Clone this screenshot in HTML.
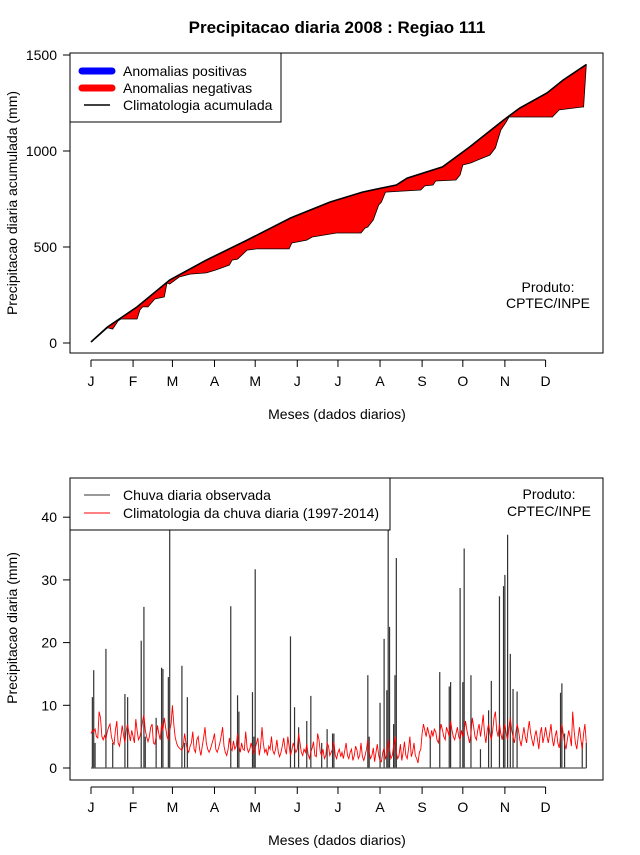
<!DOCTYPE html>
<html><head><meta charset="utf-8"><style>
body{margin:0;background:#fff}
svg text{font-family:"Liberation Sans",sans-serif;fill:#000}
</style></head><body>
<svg id="c" width="640" height="850" xmlns="http://www.w3.org/2000/svg"></svg>
<script>
const months=["J","F","M","A","M","J","J","A","S","O","N","D"];
const monthStartDays=[1,32,61,92,122,153,183,214,245,275,306,336];
const topTicks=[0,500,1000,1500];
const botTicks=[0,10,20,30,40];
const climCumDays=[1,13,35,59,86,116,148,177,201,226,234,260,280,305,317,337,349,366];
const climCumVals=[5,83,188,328,432,536,651,734,786,823,859,917,1021,1161,1224,1302,1370,1450];
const obsCumDays=[1,7,13,14,17,21,23,30,35,37,39,43,48,55,57,59,66,74,86,93,103,105,109,116,123,147,149,160,164,182,200,203,205,209,213,215,218,244,247,253,255,270,273,275,281,286,295,299,303,307,309,314,341,346,363,364];
const obsCumVals=[5,40,78,78,73,115,125,125,125,172,188,188,229,240,313,307,344,359,365,380,406,432,437,484,490,490,521,536,552,573,573,599,604,641,719,734,786,797,818,823,844,849,875,927,938,953,979,1016,1109,1151,1177,1177,1177,1214,1229,1229];
const spikeDays=[2,3,4,12,17,26,28,38,40,41,49,53,54,58,59,68,72,70,104,109,110,120,122,121,148,151,154,163,160,175,179,171,180,205,206,214,217,219,220,221,224,225,226,251,258,265,266,273,275,276,281,288,296,294,302,305,306,308,310,312,315,347,348,350,363,366];
const spikeVals=[11.3,15.6,4,19,4,11.8,11.3,20.3,25.7,5,8,16,15.8,14.5,45,16.3,11.3,4,25.8,11.6,9,12.1,31.7,5,21,9.7,6.5,11.5,7.5,6.2,5.5,4,5.5,14.8,5,10.4,20.6,12.4,42,22.5,7,14.8,33.5,5,15.3,13,13.7,28.7,13.7,35,14.8,3,13.9,9.2,27.4,29,30.8,37.2,18.2,12.6,12.2,12,13.5,5.5,4,4];
const climDaily=[5.5,6,5.8,6.2,5,4.8,9,8,5,4.5,5.2,4.6,5.8,6.5,7,5,4.2,3.8,6,7.5,4,3.5,5,6.8,5.2,4,6,7,5.5,4.3,6,
5,4,7.8,6,4.5,5,6,7.5,8.5,6,5,4.2,5,6.5,7,4,3.8,5,6.8,5.5,4.5,7,6,8,6.5,5,4.5,6,7,
10,7,5,4,3.5,3.2,3,2.8,3.5,5.5,4,3,2.5,3.5,4,5.8,3,2.5,4.5,5,3,2,3.5,4.8,6.5,4,3,2.5,3,3.8,4.5,
5.5,3,2.5,3.2,4,5.2,6.5,3.5,2.5,2,3,4.8,3.2,2.8,4.3,3,3.5,5.5,3.5,2.5,4,3,2.8,5.8,3.2,2.5,3,4,3,2.2,
3.2,4,4.8,2,3.5,6.5,4,2.5,3,2,3.5,3,5,2.8,2.2,3,4.5,2.5,1.8,2.5,3.5,4.8,3,2.2,5,3.5,2,2.8,4,3.2,2.5,
3,5.5,4,2.5,2,3,2.5,3.8,2.2,1.5,2.5,3.2,4.2,2,1.8,5.5,4.5,2.5,2,3,1.5,2,4,3.5,2,2.5,3,4.2,2,1.5,
2.5,3,1.8,2.5,1.5,2.8,4,2,1.5,2.5,3,1.2,2,3.5,2.8,1.5,2,4,1.8,1.2,2,3,4.5,2.5,1.5,2,3.2,1,2.5,3.8,2,
1.2,1,2.5,3.2,1.5,2,4.5,3,1.5,2,3.5,5,2.5,1.5,2,3.8,1.2,2.5,4.2,2,1.5,3,5,1.8,2.5,4,2,1.5,0.8,2.5,3,
5.5,7,6,5,6.5,5.5,4.5,6,5,6.2,5.8,4.5,4,5.5,7,6,5,4.5,6.5,5.8,5,7.5,6,5,4.5,5.5,6.5,5,4.5,6,
5,6,7.5,6,5,4,5.5,8,6.5,5,4.5,6,7,5,6.5,8.5,5.5,4,6,7,5.5,4.5,6,8,9,6,5,7,5.5,4.5,6,
7,5.5,4.5,6.5,8,6,5,4,5.5,7,6,4.5,3.5,5,6.5,5,4,6,7.5,5.5,4.5,3.5,5,6,4.5,3,5.5,6.5,4,5,
6.5,5,4,5.5,7,4.5,3.5,5,6,4,3.2,5,7,5.5,4,3,4.5,6,5,3.5,9,6,4,3,5,6.5,4.5,3,5.5,7,4];

const NS="http://www.w3.org/2000/svg";
const svg=document.getElementById('c');
function mk(tag,attrs,parent){const e=document.createElementNS(NS,tag);for(const k in attrs)e.setAttribute(k,attrs[k]);(parent||svg).appendChild(e);return e;}
function txt(s,x,y,size,anchor,extra){const t=mk('text',Object.assign({x:x,y:y,'font-size':size,'text-anchor':anchor||'middle'},extra||{}));t.textContent=s;return t;}
const xDay=d=>91+(d-1)*1.357;
const yTop=v=>343-v*96/500;
const yBot=v=>768-v*6.27;

let t=txt('Precipitacao diaria 2008 : Regiao 111',337,33,17,'middle',{'font-weight':'bold'});



// ---------- top panel ----------
let g1=mk('g',{});


let pts=[];
climCumDays.forEach((d,i)=>pts.push(xDay(d).toFixed(1)+','+yTop(climCumVals[i]).toFixed(1)));
let lower=[];
obsCumDays.forEach((d,i)=>lower.push(xDay(d).toFixed(1)+','+yTop(obsCumVals[i]).toFixed(1)));
let area=mk('polygon',{points:pts.concat(lower.reverse()).join(' '),fill:'#ff0000',stroke:'#000','stroke-width':0.8},g1);


let cl=mk('polyline',{points:pts.join(' '),fill:'none',stroke:'#000','stroke-width':1.6},g1);


let b1=mk('rect',{x:70,y:53,width:533,height:300,fill:'none',stroke:'#000'},g1);


topTicks.forEach(v=>{mk('line',{x1:63,x2:70,y1:yTop(v),y2:yTop(v),stroke:'#000'},g1);
 let l=txt(String(v),57,yTop(v)+5,14,'end');});
mk('line',{x1:xDay(1),x2:xDay(336),y1:360,y2:360,stroke:'#000'},g1);
monthStartDays.forEach((d,i)=>{mk('line',{x1:xDay(d),x2:xDay(d),y1:360,y2:367,stroke:'#000'},g1);
 let l=txt(months[i],xDay(d),386,14);});
t=txt('Meses (dados diarios)',337,419,14);
t=txt('Precipitacao diaria acumulada (mm)',17,203,14,'middle',{transform:'rotate(-90 17 203)'});
t=txt('Produto:',548,292,14);
t=txt('CPTEC/INPE',548,308,14);
let lg=mk('g',{});
mk('rect',{x:70,y:53,width:211,height:69,fill:'#fff',stroke:'#000'},lg);
mk('line',{x1:82,x2:112,y1:71,y2:71,stroke:'#0000ff','stroke-width':7,'stroke-linecap':'round'},lg);
mk('line',{x1:82,x2:112,y1:88,y2:88,stroke:'#ff0000','stroke-width':7,'stroke-linecap':'round'},lg);
mk('line',{x1:84,x2:110,y1:105,y2:105,stroke:'#000','stroke-width':1.5},lg);
txt('Anomalias positivas',123,76,14,'start');
txt('Anomalias negativas',123,93,14,'start');
txt('Climatologia acumulada',123,110,14,'start');

// ---------- bottom panel ----------
let g2=mk('g',{});


spikeDays.forEach((d,i)=>{let b=mk('line',{x1:xDay(d),x2:xDay(d),y1:yBot(0),y2:yBot(spikeVals[i]),stroke:'#333','stroke-width':1.2},g2);
 });
mk('line',{x1:xDay(1),x2:xDay(366),y1:yBot(0),y2:yBot(0),stroke:'#555','stroke-width':1.2},g2);
let cp=climDaily.map((v,i)=>xDay(i+1).toFixed(1)+','+yBot(v).toFixed(1)).join(' ');
let rl=mk('polyline',{points:cp,fill:'none',stroke:'#ff0000','stroke-width':0.9},g2);

let b2=mk('rect',{x:70,y:478,width:533,height:302,fill:'none',stroke:'#000'},g2);

botTicks.forEach(v=>{mk('line',{x1:63,x2:70,y1:yBot(v),y2:yBot(v),stroke:'#000'},g2);
 let l=txt(String(v),57,yBot(v)+5,14,'end');});
mk('line',{x1:xDay(1),x2:xDay(336),y1:787,y2:787,stroke:'#000'},g2);
monthStartDays.forEach((d,i)=>{mk('line',{x1:xDay(d),x2:xDay(d),y1:787,y2:794,stroke:'#000'},g2);
 let l=txt(months[i],xDay(d),812,14);});
t=txt('Meses (dados diarios)',337,845,14);
t=txt('Precipitacao diaria (mm)',17,628,14,'middle',{transform:'rotate(-90 17 628)'});
t=txt('Produto:',549,499,14);
t=txt('CPTEC/INPE',549,516,14);
let lg2=mk('g',{});
mk('rect',{x:70,y:478,width:320,height:52,fill:'#fff',stroke:'#000'},lg2);
mk('line',{x1:84,x2:110,y1:495,y2:495,stroke:'#333','stroke-width':1},lg2);
mk('line',{x1:84,x2:110,y1:513,y2:513,stroke:'#ff0000','stroke-width':1},lg2);
txt('Chuva diaria observada',123,500,14,'start');
txt('Climatologia da chuva diaria (1997-2014)',123,518,14,'start');
</script>
</body></html>
